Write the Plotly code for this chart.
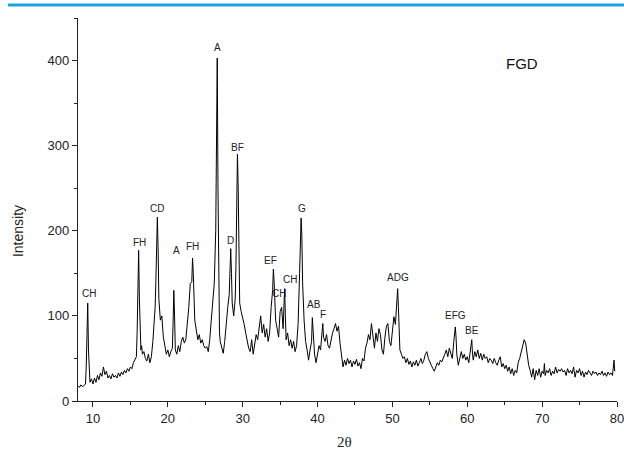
import plotly.graph_objects as go

two_theta = [
    8.0, 8.2, 8.4, 8.6, 8.8, 9.0, 9.1, 9.2, 9.3, 9.4, 9.5, 9.6, 9.8, 10.0, 10.2, 10.4, 10.6, 10.8,
    11.0, 11.2, 11.4, 11.6, 11.8, 12.0, 12.2, 12.4, 12.6, 12.8, 13.0, 13.2, 13.4, 13.6, 13.8,
    14.0, 14.2, 14.4, 14.6, 14.8, 15.0, 15.2, 15.4, 15.6, 15.8, 15.9, 16.0, 16.1, 16.2, 16.3,
    16.4, 16.5, 16.6, 16.8, 17.0, 17.2, 17.4, 17.6, 17.8, 18.0, 18.2, 18.3, 18.4, 18.5, 18.6,
    18.7, 18.8, 19.0, 19.2, 19.4, 19.6, 19.8, 20.0, 20.2, 20.4, 20.6, 20.7, 20.8, 20.9, 21.0,
    21.2, 21.4, 21.6, 21.8, 22.0, 22.2, 22.4, 22.6, 22.8, 23.0, 23.2, 23.3, 23.4, 23.6, 23.8,
    24.0, 24.2, 24.4, 24.6, 24.8, 25.0, 25.2, 25.4, 25.6, 25.8, 26.0, 26.2, 26.4, 26.5, 26.6,
    26.7, 26.8, 26.9, 27.0, 27.2, 27.4, 27.6, 27.8, 28.0, 28.2, 28.4, 28.5, 28.6, 28.8, 29.0,
    29.1, 29.2, 29.3, 29.4, 29.5, 29.6, 29.8, 30.0, 30.2, 30.4, 30.6, 30.8, 31.0, 31.2, 31.4,
    31.6, 31.8, 32.0, 32.2, 32.4, 32.6, 32.8, 33.0, 33.2, 33.4, 33.6, 33.8, 34.0, 34.1, 34.2,
    34.4, 34.6, 34.8, 35.0, 35.2, 35.4, 35.6, 35.7, 35.8, 36.0, 36.2, 36.4, 36.6, 36.8, 37.0,
    37.2, 37.4, 37.6, 37.8, 37.9, 38.0, 38.2, 38.4, 38.6, 38.8, 39.0, 39.2, 39.3, 39.4, 39.6,
    39.8, 40.0, 40.2, 40.4, 40.6, 40.7, 40.8, 41.0, 41.2, 41.4, 41.6, 41.8, 42.0, 42.2, 42.4,
    42.6, 42.8, 43.0, 43.2, 43.4, 43.6, 43.8, 44.0, 44.2, 44.4, 44.6, 44.8, 45.0, 45.2, 45.4,
    45.6, 45.8, 46.0, 46.2, 46.4, 46.6, 46.8, 47.0, 47.2, 47.4, 47.6, 47.8, 48.0, 48.2, 48.4,
    48.6, 48.8, 49.0, 49.2, 49.4, 49.6, 49.8, 50.0, 50.2, 50.4, 50.5, 50.6, 50.7, 50.8, 51.0,
    51.2, 51.4, 51.6, 51.8, 52.0, 52.2, 52.4, 52.6, 52.8, 53.0, 53.2, 53.4, 53.6, 53.8, 54.0,
    54.2, 54.4, 54.6, 54.8, 55.0, 55.2, 55.4, 55.6, 55.8, 56.0, 56.2, 56.4, 56.6, 56.8, 57.0,
    57.2, 57.4, 57.6, 57.8, 58.0, 58.2, 58.4, 58.5, 58.6, 58.8, 59.0, 59.2, 59.4, 59.6, 59.8,
    60.0, 60.2, 60.4, 60.6, 60.7, 60.8, 61.0, 61.2, 61.4, 61.6, 61.8, 62.0, 62.2, 62.4, 62.6,
    62.8, 63.0, 63.2, 63.4, 63.6, 63.8, 64.0, 64.2, 64.4, 64.6, 64.8, 65.0, 65.2, 65.4, 65.6,
    65.8, 66.0, 66.2, 66.4, 66.6, 66.8, 67.0, 67.2, 67.4, 67.6, 67.8, 68.0, 68.2, 68.4, 68.6,
    68.8, 69.0, 69.2, 69.4, 69.6, 69.8, 70.0, 70.2, 70.3, 70.4, 70.6, 70.8, 71.0, 71.2, 71.4,
    71.6, 71.8, 72.0, 72.2, 72.4, 72.6, 72.8, 73.0, 73.2, 73.4, 73.6, 73.8, 74.0, 74.2, 74.4,
    74.6, 74.8, 75.0, 75.2, 75.4, 75.6, 75.8, 76.0, 76.2, 76.4, 76.6, 76.8, 77.0, 77.2, 77.4,
    77.6, 77.8, 78.0, 78.2, 78.4, 78.6, 78.8, 79.0, 79.2, 79.4, 79.6, 79.7,
]

intensity = [
    18, 16, 19, 17, 18, 20, 40, 112, 115, 60, 28, 22, 26, 20, 27, 22, 30, 25,
    33, 29, 40, 31, 35, 27, 30, 26, 32, 28, 30, 27, 33, 29, 34,
    31, 36, 33, 38, 35, 40, 38, 45, 48, 52, 80, 150, 177, 120, 70,
    60, 65, 55, 58, 50, 47, 55, 45, 52, 70, 90, 110, 140, 190, 216,
    180, 120, 95, 100, 75, 62, 55, 60, 52, 58, 62, 90, 130, 100, 60,
    55, 65, 58, 70, 75, 68, 72, 90, 110, 138, 140, 168, 150, 95, 85,
    72, 78, 68, 72, 65, 62, 64, 58, 72, 95, 115, 138, 200, 360, 403,
    250, 110, 80, 70, 62, 56, 70, 95, 110, 125, 179, 150, 115, 100, 120,
    160, 240, 290, 250, 170, 115, 105, 95, 90, 80, 70, 62, 58, 72, 55,
    68, 78, 72, 85, 100, 80, 90, 75, 85, 70, 80, 110, 130, 155, 140,
    95, 85, 75, 105, 110, 85, 132, 100, 72, 80, 65, 72, 62, 70, 58,
    65, 90, 150, 215, 195, 140, 95, 70, 60, 48, 60, 70, 98, 80, 55,
    45, 55, 65, 60, 80, 91, 75, 70, 78, 65, 62, 72, 80, 85, 91,
    82, 88, 68, 50, 40, 48, 42, 50, 44, 48, 40, 47, 43, 49, 41,
    45, 38, 50, 47, 62, 68, 78, 72, 91, 75, 62, 80, 70, 85, 78,
    60, 55, 75, 88, 91, 70, 65, 85, 99, 90, 107, 120, 132, 110, 60,
    55, 50, 52, 45, 50, 43, 47, 40, 46, 42, 48, 41, 45, 50, 44,
    48, 55, 58, 50, 45, 42, 38, 35, 40, 45, 42, 48, 46, 52, 55,
    60, 52, 62, 55, 50, 70, 87, 75, 55, 42, 52, 58, 50, 55, 48,
    52, 45, 58, 72, 55, 48, 58, 52, 60, 50, 56, 48, 55, 50, 52,
    45, 50, 48, 44, 50, 45, 42, 48, 52, 40, 44, 38, 42, 35, 40,
    32, 38, 30, 36, 33, 45, 50, 58, 65, 72, 68, 55, 42, 36, 28,
    38, 25, 36, 30, 38, 28, 35, 32, 44, 30, 36, 33, 38, 30, 35,
    32, 40, 33, 37, 35, 38, 34, 36, 30, 38, 33, 36, 32, 40, 28,
    36, 33, 38, 30, 35, 28, 34, 31, 36, 33, 30, 35, 32, 34, 30,
    33, 31, 35, 30, 33, 29, 34, 31, 33, 30, 48, 35,
]

peak_labels = ["CH", "FH", "CD", "A", "FH", "A", "D", "BF", "EF", "CH", "CH", "G",
               "AB", "F", "ADG", "EFG", "BE"]
label_x = [9.47, 16.28, 18.55, 21.22, 23.36, 26.70, 28.43, 29.37, 33.78, 34.85, 36.32,
           37.92, 39.52, 40.72, 50.74, 58.49, 60.63]
label_y = [126, 186, 226, 177, 181, 415, 189, 298, 165, 126, 143, 226, 113, 102, 145,
           101, 83]

fig = go.Figure()
fig.add_trace(go.Scatter(x=two_theta, y=intensity, mode="lines",
                         line=dict(color="black", width=1), showlegend=False))

for t, lx, ly in zip(peak_labels, label_x, label_y):
    fig.add_annotation(x=lx, y=ly, text=t, showarrow=False, xanchor="center",
                       yanchor="middle", font=dict(family="Liberation Sans, Arial", size=10, color="#222"))

fig.add_annotation(x=67.3, y=396, text="FGD", showarrow=False, xanchor="center",
                   yanchor="middle", font=dict(family="Liberation Sans, Arial", size=15, color="#111"))

# axis titles placed as paper annotations
fig.add_annotation(xref="paper", yref="paper", x=-0.111, y=0.444, text="Intensity",
                   textangle=-90, showarrow=False, xanchor="center", yanchor="middle",
                   font=dict(family="Liberation Sans, Arial", size=14, color="#222"))
fig.add_annotation(xref="paper", yref="paper", x=0.495, y=-0.107, text="2θ",
                   showarrow=False, xanchor="center", yanchor="middle",
                   font=dict(family="Liberation Serif, Times New Roman", size=15, color="#222"))

# header rule at the top of the page
fig.add_shape(type="line", xref="paper", yref="paper", x0=-0.13, x1=1.02, y0=1.034, y1=1.034,
              line=dict(color="#1aa3e0", width=3))

axis_font = dict(family="Liberation Sans, Arial", size=13, color="#222")
fig.update_xaxes(range=[8, 80], tickvals=[10, 20, 30, 40, 50, 60, 70, 80], automargin=False,
                 ticklabeloverflow="allow",
                 showline=True, linecolor="#222", linewidth=1.2, ticks="outside", ticklen=5,
                 tickcolor="#222", showgrid=False, zeroline=False, tickfont=axis_font,
                 minor=dict(tickvals=[15, 25, 35, 45, 55, 65, 75], ticks="outside", ticklen=3,
                            tickcolor="#222"))
fig.update_yaxes(range=[0, 450], tickvals=[0, 100, 200, 300, 400], automargin=False,
                 showline=True, linecolor="#222", linewidth=1.2, ticks="outside", ticklen=5,
                 tickcolor="#222", showgrid=False, zeroline=False, tickfont=axis_font,
                 minor=dict(tickvals=[50, 150, 250, 350, 450], ticks="outside", ticklen=3,
                            tickcolor="#222"))

fig.update_layout(width=624, height=461, margin=dict(l=78, r=7, t=18, b=60),
                  plot_bgcolor="white", paper_bgcolor="white")

fig.write_html("out.html", config={"displayModeBar": False},
               post_script="document.body.style.margin='0';")
